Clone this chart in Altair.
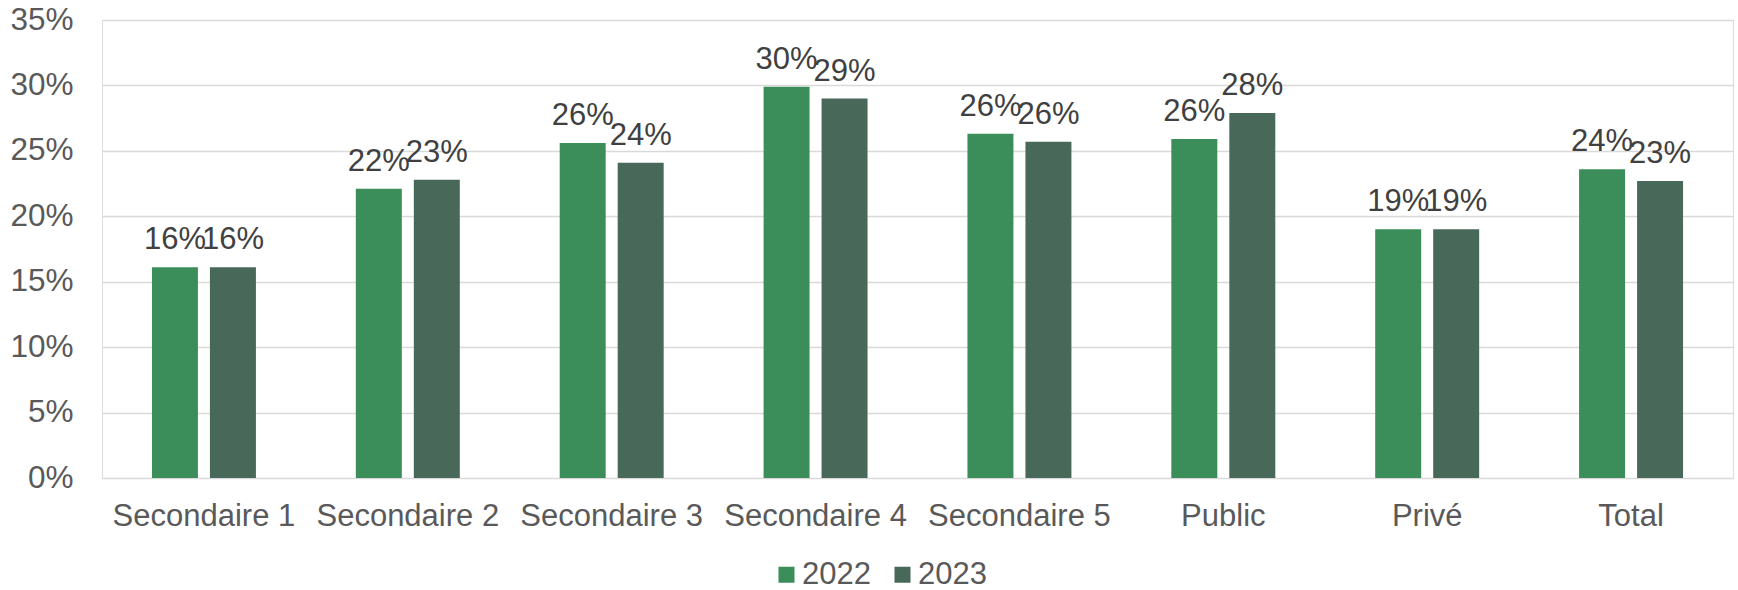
import altair as alt
import pandas as pd

categories = ["Secondaire 1", "Secondaire 2", "Secondaire 3", "Secondaire 4",
              "Secondaire 5", "Public", "Privé", "Total"]
years = ["2022", "2023"]
values_2022 = [0.161, 0.221, 0.256, 0.299, 0.263, 0.259, 0.190, 0.236]
values_2023 = [0.161, 0.228, 0.241, 0.290, 0.257, 0.279, 0.190, 0.227]
y_ticks = [0, 0.05, 0.10, 0.15, 0.20, 0.25, 0.30, 0.35]
colors = ["#3B8E5A", "#48695A"]

rows = []
for c, v1, v2 in zip(categories, values_2022, values_2023):
    rows.append({"cat": c, "year": years[0], "value": v1})
    rows.append({"cat": c, "year": years[1], "value": v2})
df = pd.DataFrame(rows)

FONT = "Liberation Sans"
FS = 31

x = alt.X("cat:N", sort=categories, title=None,
          scale=alt.Scale(paddingInner=0.49, paddingOuter=0.245),
          axis=alt.Axis(labelAngle=0, ticks=False, domain=False, labelPadding=23,
                        labelFontSize=FS, labelColor="#595959", labelFont=FONT,
                        labelBaseline="top", labelLimit=400, labelOverlap=False))
xoff = alt.XOffset("year:N", sort=years,
                   scale=alt.Scale(paddingInner=0.207, paddingOuter=0))
y = alt.Y("value:Q", title=None,
          scale=alt.Scale(domain=[0, 0.35], nice=False),
          axis=alt.Axis(values=y_ticks, format=".0%", ticks=False, domain=False,
                        labelPadding=29, labelFontSize=FS + 0.5, labelColor="#595959",
                        labelFont=FONT, gridColor="#D9D9D9", gridWidth=1.6))
color = alt.Color("year:N", sort=years, title=None,
                  scale=alt.Scale(domain=years, range=colors),
                  legend=alt.Legend(orient="none", direction="horizontal",
                                    legendX=669, legendY=539,
                                    symbolType="square", symbolSize=256,
                                    symbolStrokeWidth=0, labelOffset=0,
                                    columnPadding=16,
                                    labelFontSize=FS, labelColor="#595959",
                                    labelFont=FONT))

bars = alt.Chart(df).mark_bar().encode(x=x, xOffset=xoff, y=y, color=color)
labels = alt.Chart(df).mark_text(
    baseline="alphabetic", dy=-18, fontSize=FS, font=FONT, color="#404040"
).encode(x=x, xOffset=xoff, y=y, text=alt.Text("value:Q", format=".0%"))

chart = alt.layer(bars, labels).properties(
    width=1631, height=458,
    autosize=alt.AutoSizeParams(type="none"),
    padding={"left": 102, "top": 20, "right": 5, "bottom": 112},
).configure_view(stroke=None).configure(background="white")

chart.save("out.html", embed_options={"renderer": "svg", "actions": False})
